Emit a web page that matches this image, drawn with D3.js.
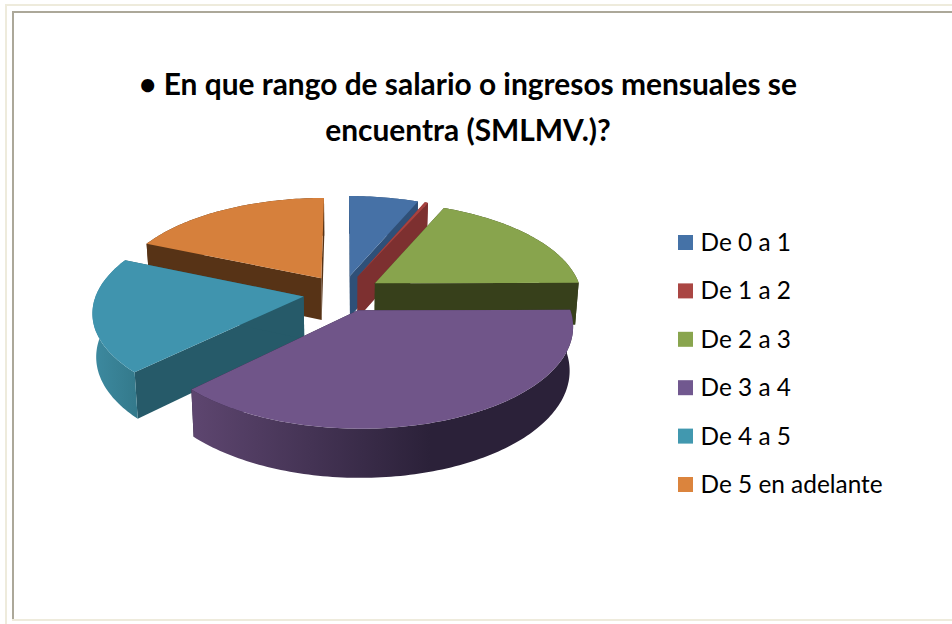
<!DOCTYPE html>
<html><head><meta charset="utf-8">
<script src="https://cdn.jsdelivr.net/npm/d3@7/dist/d3.min.js"></script>
<style>html,body{margin:0;padding:0;background:#fff;overflow:hidden}svg{display:block}</style>
</head><body><svg id="c" width="952" height="624"></svg>
<script>
const categories = ["De 0 a 1","De 1 a 2","De 2 a 3","De 3 a 4","De 4 a 5","De 5 en adelante"];
const values = [6.3,0.3,18.3,37.6,18.9,18.5];
const legendColors = ["#4572a7","#aa4643","#89a54e","#71588f","#4198af","#db843d"];
const topColors = ["#4671a6","#a8423f","#88a44d","#705589","#4094ae","#d6803c"];
const cutColors = ["#2f5078","#7d3030","#37401b","#2b2139","#265a69","#573316"];
const wallStart = ["#2f5078","#7d3030","#37401b","#5e4670","#3d8aa0","#573316"];
const wallEnd = ["#2f5078","#7d3030","#37401b","#2b2139","#347a8c","#573316"];
const titleLines = ["• En que rango de salario o ingresos mensuales se","encuentra (SMLMV.)?"];
const drawOrder = [5,0,1,2,4,3];

const svg = d3.select("#c");
const W = 952, H = 624;
const cx = 342.5, cy = 293, S = 207, K = 0.4626, D = 6.9, EXPLODE = 0.19, DEPTH = 42.5, SHRINK = 0.985;

// frame
const frame = [
  {x:5,y:4,w:W-5,h:2,c:"#eeebdc"},{x:5,y:4,w:2,h:H-4,c:"#eeebdc"},
  {x:12,y:11,w:W-12,h:2,c:"#aca899"},{x:12,y:11,w:2,h:609,c:"#aca899"},
  {x:12,y:619,w:W-12,h:2,c:"#eeebdc"}
];
svg.selectAll("rect.f").data(frame).join("rect").attr("class","f")
  .attr("x",d=>d.x).attr("y",d=>d.y).attr("width",d=>d.w).attr("height",d=>d.h).attr("fill",d=>d.c);

// title
svg.selectAll("text.t").data(titleLines).join("text").attr("class","t")
  .attr("x",468).attr("y",(d,i)=>95+i*46).attr("text-anchor","middle")
  .attr("font-family","Lato").attr("font-weight",700).attr("font-size",29.9).attr("fill","#000").text(d=>d);

// projection of the pie plane (u right, v toward the viewer)
function projTop(u,v){const p=D/(D-v);return [cx+S*u*p,cy+S*K*v*p];}
function projBottom(u,v){const p=D/(D-v);const q=projTop(u,v);return [cx+(q[0]-cx)*SHRINK,cy+(q[1]-cy)*SHRINK+DEPTH*p];}
const line=d3.line();

const arcs=d3.pie().sort(null).value(d=>d)(values);
const defs=svg.append("defs");
const g=svg.append("g");

function sliceGeom(a){
  const mid=(a.startAngle+a.endAngle)/2;
  const ox=EXPLODE*Math.sin(mid), oy=-EXPLODE*Math.cos(mid);
  const n=Math.max(2,Math.ceil((a.endAngle-a.startAngle)/0.02));
  const rim=d3.range(n+1).map(i=>{
    const t=a.startAngle+(a.endAngle-a.startAngle)*i/n;
    return [ox+Math.sin(t),oy-Math.cos(t)];
  });
  return {apex:[ox,oy],rim};
}

drawOrder.forEach(i=>{
  const {apex,rim}=sliceGeom(arcs[i]);
  const T=p=>projTop(p[0],p[1]), B=p=>projBottom(p[0],p[1]);
  const first=rim[0], last=rim[rim.length-1];
  const sl=g.append("g");
  [first,last].forEach(e=>{
    sl.append("path").attr("d",line([T(apex),T(e),B(e),B(apex)])+"Z").attr("fill",cutColors[i]);
  });
  const xs=rim.map(p=>T(p)[0]);
  const id="w"+i;
  const lg=defs.append("linearGradient").attr("id",id).attr("gradientUnits","userSpaceOnUse")
    .attr("x1",i===3?190:d3.min(xs)).attr("x2",i===3?430:d3.max(xs)).attr("y1",0).attr("y2",0);
  lg.append("stop").attr("offset",0).attr("stop-color",wallStart[i]);
  lg.append("stop").attr("offset",1).attr("stop-color",wallEnd[i]);
  sl.append("path").attr("d",line(rim.map(T).concat(rim.slice().reverse().map(B)))+"Z").attr("fill",`url(#${id})`);
  sl.append("path").attr("d",line([T(apex)].concat(rim.map(T)))+"Z").attr("fill",topColors[i]);
});

// legend
const ly=d3.scalePoint().domain(categories).range([235,477]);
const lg=svg.selectAll("g.l").data(categories).join("g").attr("class","l")
  .attr("transform",d=>`translate(678,${ly(d)})`);
lg.append("rect").attr("width",15).attr("height",15).attr("fill",(d,i)=>legendColors[i]);
lg.append("text").attr("x",22.5).attr("y",16).attr("font-family","Lato").attr("font-size",24.4).attr("fill","#000").text(d=>d);
</script></body></html>
